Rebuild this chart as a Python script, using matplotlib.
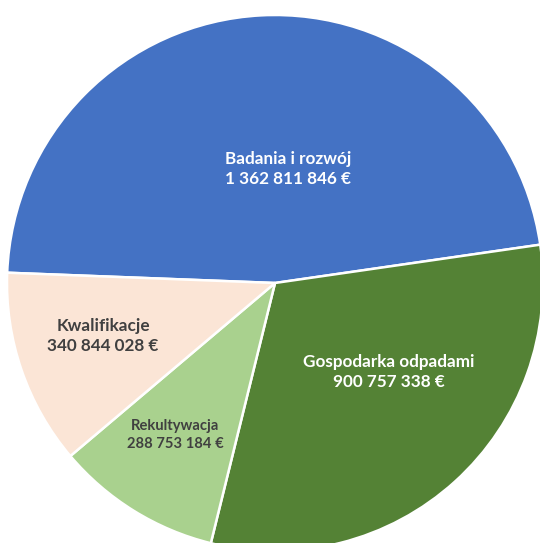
import matplotlib.pyplot as plt

# data
categories = ['Badania i rozwój', 'Gospodarka odpadami', 'Rekultywacja', 'Kwalifikacje']
values = [1362811846, 900757338, 288753184, 340844028]
colors = ['#4472C4', '#548235', '#A9D18E', '#FBE5D6']
text_colors = ['white', 'white', '#404040', '#404040']
font_sizes = [12.3, 12.3, 10.6, 12.3]

# label centres in pixel coords (x from left, y from top)
label_pos = [(288, 169), (389, 372), (175, 435), (103, 336)]

W, H = 540, 543
fig = plt.figure(figsize=(W / 100, H / 100), dpi=100)
ax = fig.add_axes([0, 0, 1, 1])

cx, cy, r = 275, 283, 268
ax.pie(values, colors=colors, startangle=177.8, counterclock=False,
       center=(cx, H - cy), radius=r,
       wedgeprops=dict(edgecolor='white', linewidth=1.8))

def fmt(v):
    return f'{v:,}'.replace(',', ' ') + ' €'

for name, v, (x, y), c, fs in zip(categories, values, label_pos, text_colors, font_sizes):
    ax.text(x, H - y, f'{name}\n{fmt(v)}', ha='center', va='center',
            color=c, fontsize=fs, fontweight='bold', family='Lato',
            linespacing=1.35)

ax.set_xlim(0, W)
ax.set_ylim(0, H)
ax.set_aspect('equal')
ax.axis('off')

fig.savefig('out.png', dpi=100)
